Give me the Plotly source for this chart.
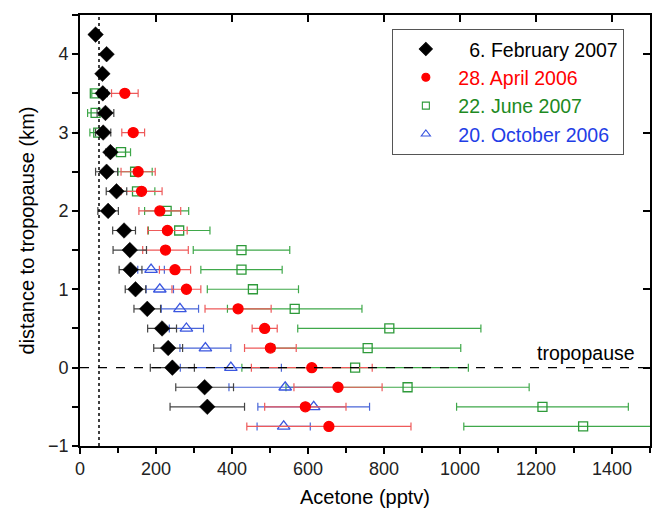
import plotly.graph_objects as go

# ---- data ----
black_y = [4.25, 4.0, 3.75, 3.5, 3.25, 3.0, 2.75, 2.5, 2.25, 2.0, 1.75, 1.5, 1.25, 1.0, 0.75, 0.5, 0.25, 0.0, -0.25, -0.5]
black_x = [41, 70, 59, 60, 67, 61, 80, 70, 96, 74, 116, 131, 133, 146, 177, 216, 232, 243, 328, 335]
black_err = [8, 8, 8, 12, 22, 20, 12, 29, 27, 27, 30, 44, 30, 27, 35, 38, 38, 58, 76, 98]

red_y = [3.5, 3.0, 2.5, 2.25, 2.0, 1.75, 1.5, 1.25, 1.0, 0.75, 0.5, 0.25, 0.0, -0.25, -0.5, -0.75]
red_x = [118, 140, 153, 162, 210, 230, 225, 250, 280, 416, 486, 501, 610, 679, 593, 655]
red_err = [35, 30, 45, 54, 55, 52, 60, 41, 38, 87, 33, 68, 159, 116, 107, 216]

green_y = [3.5, 3.25, 3.0, 2.75, 2.5, 2.25, 2.0, 1.75, 1.5, 1.25, 1.0, 0.75, 0.5, 0.25, 0.0, -0.25, -0.5, -0.75]
green_x = [39, 41, 48, 108, 145, 150, 228, 261, 425, 425, 455, 565, 814, 757, 724, 862, 1217, 1324]
green_err = [8, 21, 22, 25, 45, 47, 58, 81, 127, 107, 120, 177, 241, 245, 298, 320, 226, 314]

blue_y = [1.25, 1.0, 0.75, 0.5, 0.25, 0.0, -0.25, -0.5, -0.75]
blue_x = [187, 210, 263, 280, 330, 397, 540, 615, 536]
blue_err = [35, 36, 49, 45, 67, 133, 148, 147, 70]

series_names = ["6. February 2007", "28. April 2006", "22. June 2007", "20. October 2006"]
tropopause_y = 0.0
dotted_x = 50
x_range = [0, 1500]
y_range = [-1, 4.5]

FONT = "Liberation Sans, Arial, sans-serif"

fig = go.Figure()

def add(x, y, err, name, color, ecolor, symbol, size, lsize, rank, txtcolor, lw=1.3):
    # data trace
    fig.add_trace(go.Scatter(
        x=x, y=y, mode="markers", showlegend=False,
        marker=dict(symbol=symbol, size=size, color=color,
                    line=dict(color=color, width=lw)),
        error_x=dict(type="data", array=err, visible=True, color=ecolor,
                     thickness=1.2, width=4),
    ))
    # legend entry (no data, smaller symbol as in the reference legend)
    fig.add_trace(go.Scatter(
        x=[None], y=[None], mode="markers", legendrank=rank,
        name=f'<span style="color:{txtcolor}">{name}</span>',
        marker=dict(symbol=symbol, size=lsize, color=color,
                    line=dict(color=color, width=1.1)),
    ))

add(green_x, green_y, green_err, series_names[2], "#2e9a3a", "#3fa84a", "square-open", 9, 7, 3, "#1d8a22")
add(blue_x, blue_y, blue_err, series_names[3], "#3a56e0", "#4a66d8", "triangle-up-open", 11, 8, 4, "#1f3ee6")
add(red_x, red_y, red_err, series_names[1], "#ff0000", "#ee5a5a", "circle", 10, 8, 2, "#ff0000")
add(black_x, black_y, black_err, "&#8199;" + series_names[0], "#000000", "#444444", "diamond", 12, 10, 1, "#000000", lw=0.5)

# reference lines
fig.add_shape(type="line", xref="x", yref="y", x0=x_range[0], x1=x_range[1],
              y0=tropopause_y, y1=tropopause_y, line=dict(color="black", width=1.3, dash="dash"))
fig.add_shape(type="line", xref="x", yref="y", x0=dotted_x, x1=dotted_x,
              y0=y_range[0], y1=y_range[1], line=dict(color="black", width=1.5, dash="dot"))

fig.add_annotation(x=1465, y=tropopause_y, xref="x", yref="y", text="tropopause",
                   showarrow=False, xanchor="right", yanchor="bottom", yshift=2,
                   font=dict(family=FONT, size=19.5, color="black"))

axis_common = dict(showline=True, linecolor="black", linewidth=1.6, showgrid=False,
                   zeroline=False, tickcolor="black", tickwidth=1.5,
                   tickfont=dict(family=FONT, size=18, color="#222"))

fig.update_layout(
    width=653, height=510,
    margin=dict(l=80, r=3, t=15, b=64),
    plot_bgcolor="white", paper_bgcolor="white",
    font=dict(family=FONT, color="black"),
    xaxis=dict(range=x_range, dtick=200, ticks="outside", ticklen=6,
               minor=dict(ticks="outside", dtick=100, ticklen=5, tickcolor="black", tickwidth=1.5),
               title=dict(text="Acetone (pptv)", font=dict(family=FONT, size=20), standoff=12),
               **axis_common),
    yaxis=dict(range=y_range, dtick=1, ticks="outside", ticklen=6,
               minor=dict(ticks="outside", dtick=0.5, ticklen=6, tickcolor="black", tickwidth=1.5),
               title=dict(text="distance to tropopause (km)", font=dict(family=FONT, size=20), standoff=8),
               **axis_common),
    xaxis2=dict(range=x_range, overlaying="x", side="top", dtick=200, ticks="inside", ticklen=7,
                showticklabels=False, showline=True, linecolor="black", linewidth=1.6,
                showgrid=False, zeroline=False, tickcolor="black", tickwidth=1.5),
    yaxis2=dict(range=y_range, overlaying="y", side="right", dtick=1, ticks="inside", ticklen=7,
                showticklabels=False, showline=True, linecolor="black", linewidth=1.6,
                showgrid=False, zeroline=False, tickcolor="black", tickwidth=1.5),
    legend=dict(x=0.548, y=0.968, xanchor="left", yanchor="top",
                bordercolor="#555", borderwidth=1, bgcolor="white",
                font=dict(family=FONT, size=19.5), tracegroupgap=0, itemwidth=55),
    showlegend=True,
)

# invisible trace to activate the mirrored axes
fig.add_trace(go.Scatter(x=[None], y=[None], xaxis="x2", yaxis="y2", showlegend=False, hoverinfo="skip"))

fig.write_html("out.html")
